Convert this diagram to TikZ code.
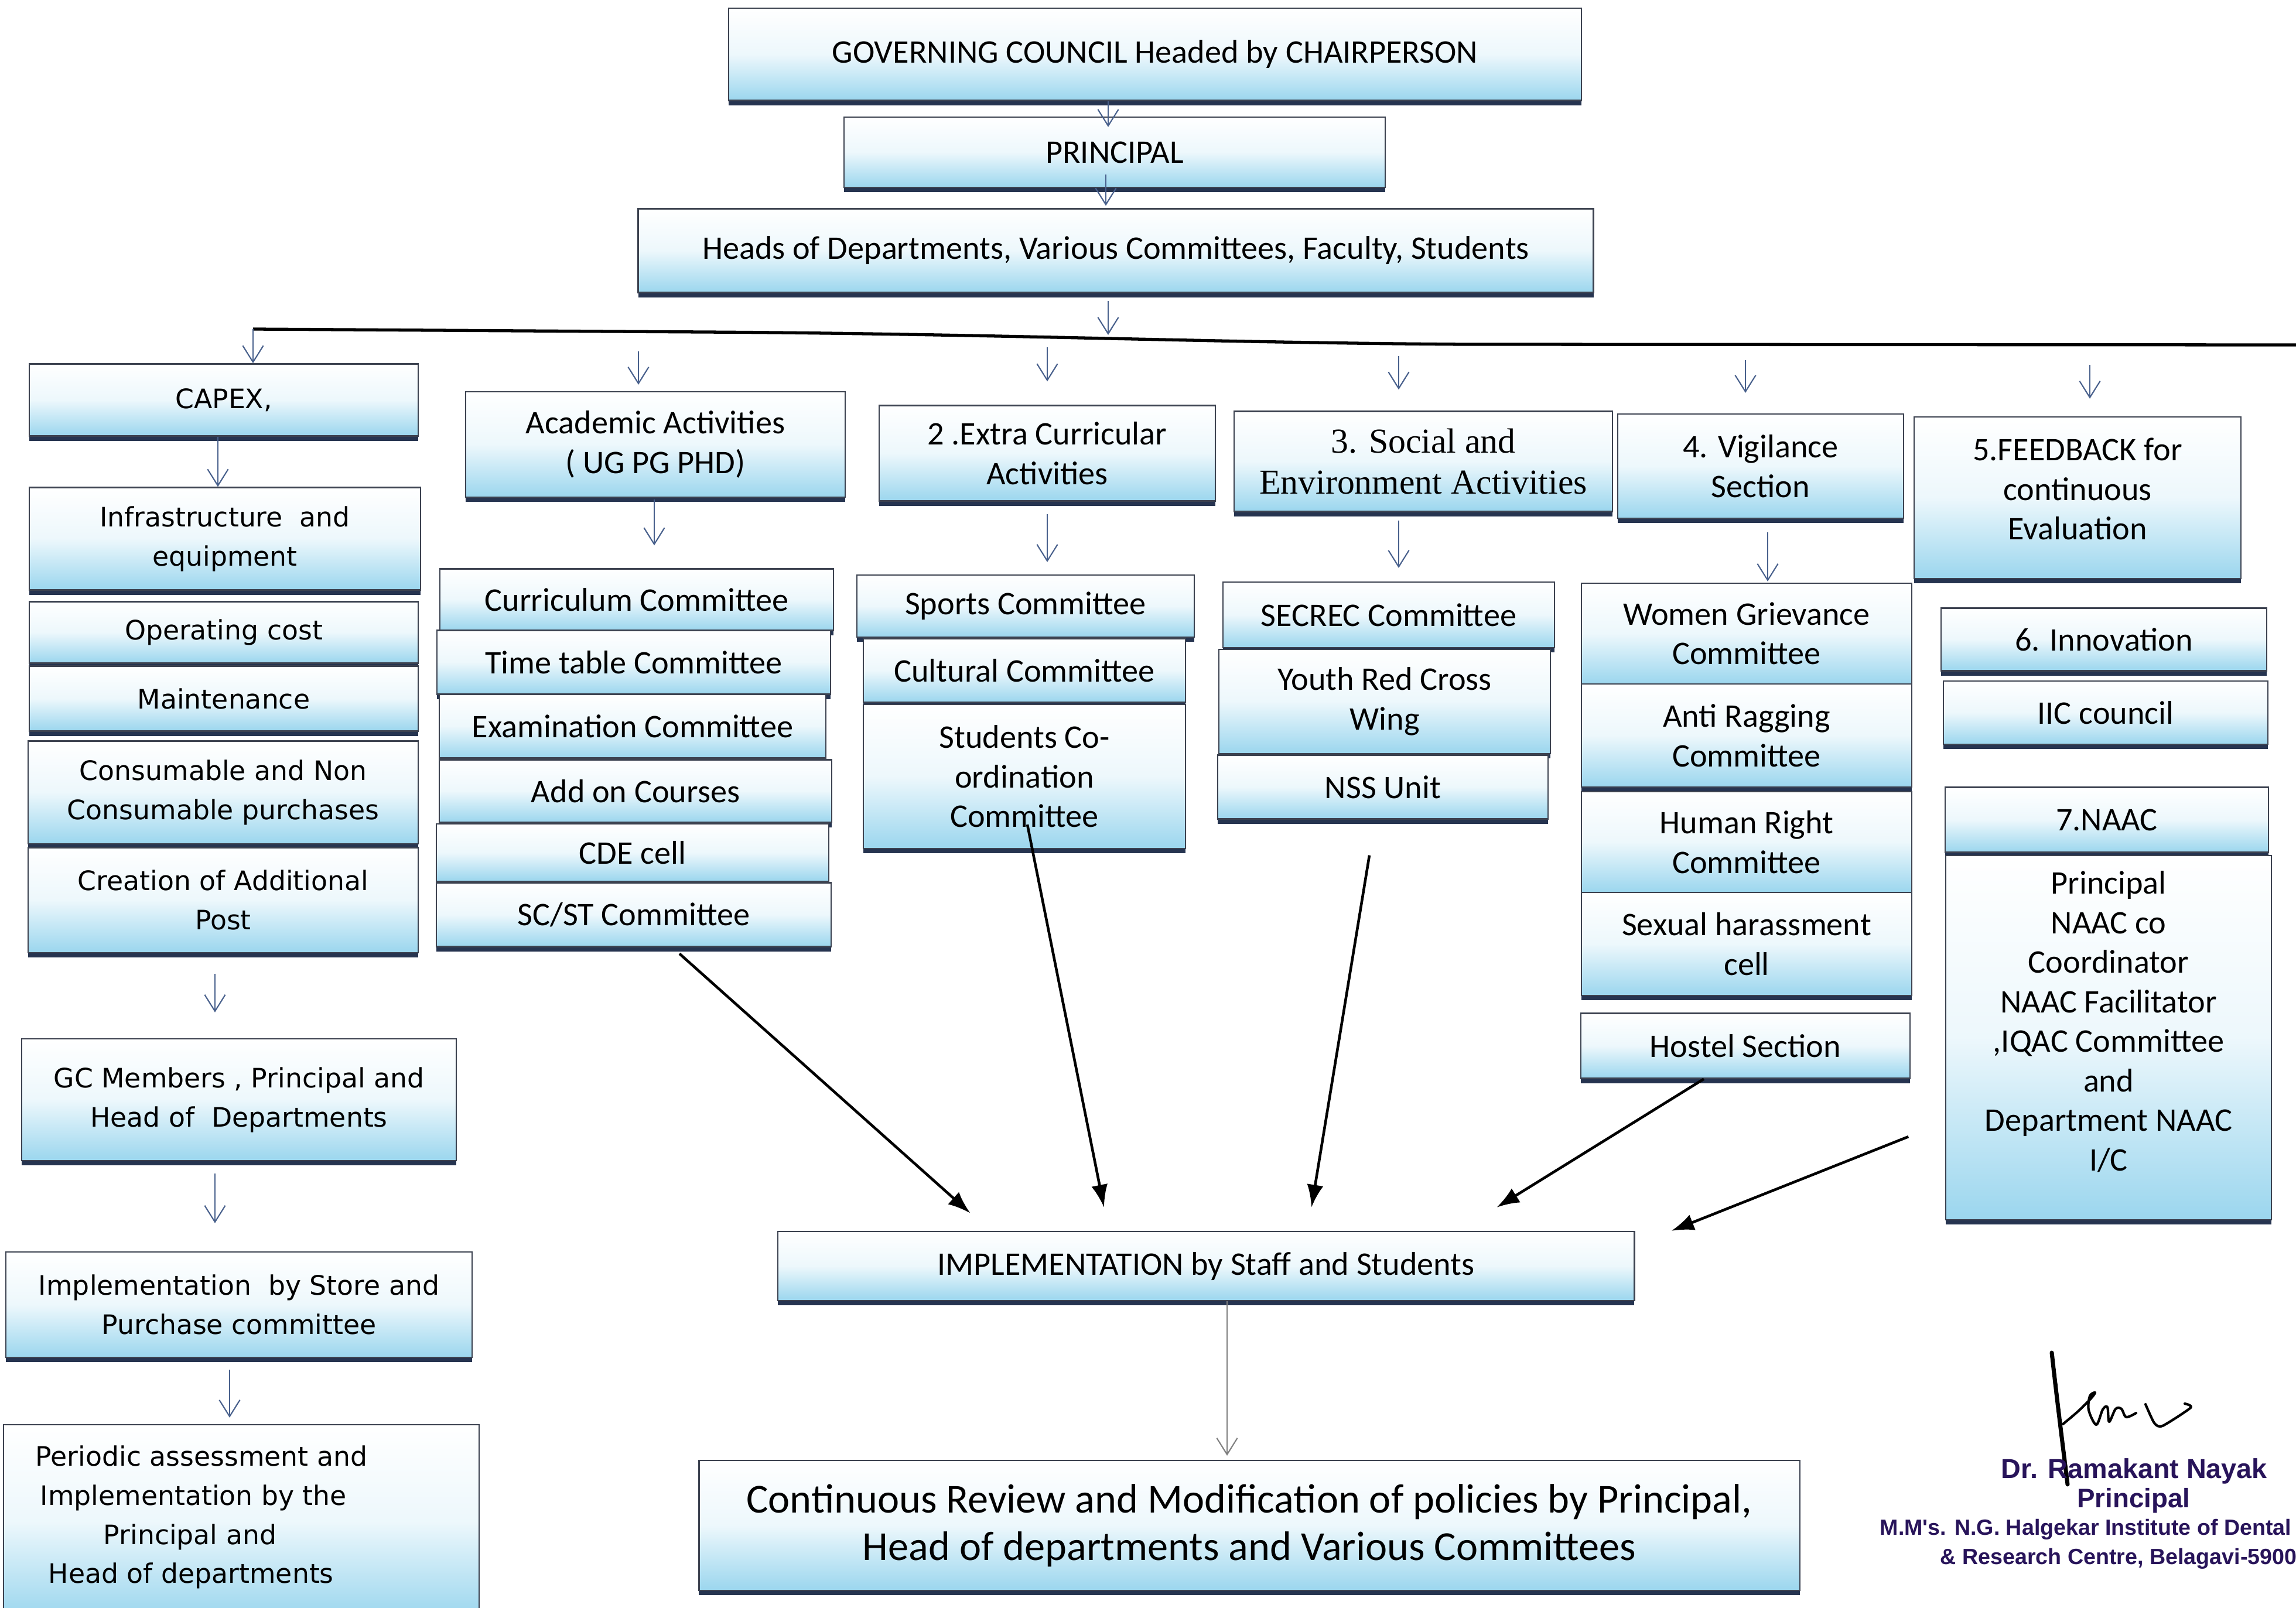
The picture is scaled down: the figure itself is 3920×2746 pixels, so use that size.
\documentclass[tikz,border=0pt]{standalone}
\usepackage{fontspec}
\setmainfont{Carlito}
\newfontfamily\verd{DejaVu Sans}
\newfontfamily\tms{Liberation Serif}
\newfontfamily\sigf{Liberation Sans}
\usetikzlibrary{arrows.meta,shadows}
\definecolor{boxb}{RGB}{155,214,238}
\definecolor{bordc}{RGB}{60,66,80}
\definecolor{shadc}{RGB}{38,52,80}
\definecolor{arrc}{RGB}{72,96,140}
\definecolor{sigc}{RGB}{40,20,90}
\tikzset{
  bx/.style={draw=bordc, line width=0.6pt, top color=white, bottom color=boxb, middle color=boxb!18!white,
    drop shadow={shadow xshift=0pt,shadow yshift=-2.3pt,fill=shadc,opacity=1},
    align=center, inner sep=1pt, font=\fontsize{16}{19.2}\selectfont},
  wh/.style n args={2}{minimum width=#1cm, minimum height=#2cm},
  vd/.style={font=\verd\fontsize{13}{19}\selectfont},
  tm/.style={font=\tms\fontsize{17}{20}\selectfont},
  barw/.style={draw=arrc, line width=0.6pt, -{Straight Barb[length=8pt,width=10pt]}},
  blk/.style={draw=black, line width=1.3pt, -{Latex[length=11pt,width=8pt]}},
  sigt/.style={text=sigc, inner sep=0pt}
}
\begin{document}
\begin{tikzpicture}[x=0.01cm,y=-0.01cm]
\fill[white] (0,0) rectangle (3920,2746);
\useasboundingbox (0,0) rectangle (3920,2746);

% top chain
\node[bx, wh={14.55}{1.57}] (gov) at (1972,93) {GOVERNING COUNCIL Headed by CHAIRPERSON};
\node[bx, wh={9.23}{1.20}] (prin) at (1903,260) {PRINCIPAL};
\node[bx, wh={16.30}{1.43}] (heads) at (1905,428) {Heads of Departments, Various Committees, Faculty, Students};

% left column
\node[bx, vd, wh={6.63}{1.23}] (capex) at (382,683) {CAPEX,};
\node[bx, vd, wh={6.67}{1.75}] (infra) at (384,920) {Infrastructure\ \ and\\equipment};
\node[bx, vd, wh={6.63}{1.05}] (oper) at (382,1080) {Operating cost};
\node[bx, vd, wh={6.63}{1.11}] (maint) at (382,1193) {Maintenance};
\node[bx, vd, wh={6.66}{1.75}] (cons) at (381,1353) {Consumable and Non\\Consumable purchases};
\node[bx, vd, wh={6.66}{1.79}] (crea) at (381,1537) {Creation of Additional\\Post};
\node[bx, vd, wh={7.42}{2.08}] (gcm) at (408,1878) {GC Members , Principal and\\Head of\ \ Departments};
\node[bx, vd, wh={7.96}{1.80}] (imps) at (408,2228) {Implementation\ \ by Store and\\Purchase committee};
\node[bx, vd, wh={8.11}{3.30}] (peri) at (412,2598) {};
\node[vd, align=left, anchor=north west, inner sep=0pt] (peritxt) at (60,2468)
  {Periodic assessment and\\\hspace*{2.3pt}Implementation by the\\\hspace*{33pt}Principal and\\\hspace*{6.3pt}Head of departments};

% academic
\node[bx, wh={6.48}{1.80}] (acad) at (1119,759) {Academic Activities\\( UG PG PHD)};
\node[bx, wh={6.71}{1.05}] (curr) at (1087,1024) {Curriculum Committee};
\node[bx, wh={6.72}{1.09}] (time) at (1082,1131) {Time table Committee};
\node[bx, wh={6.59}{1.09}] (exam) at (1080,1240) {Examination Committee};
\node[bx, wh={6.69}{1.07}] (addon) at (1085,1351) {Add on Courses};
\node[bx, wh={6.69}{0.98}] (cde) at (1080,1456) {CDE cell};
\node[bx, wh={6.73}{1.09}] (scst) at (1082,1562) {SC/ST Committee};

% extra curricular
\node[bx, wh={5.74}{1.63}] (extra) at (1788,774) {2 .Extra Curricular\\Activities};
\node[bx, wh={5.76}{1.06}] (sport) at (1751,1035) {Sports Committee};
\node[bx, wh={5.49}{1.09}] (cult) at (1749,1145) {Cultural Committee};
\node[bx, wh={5.49}{2.46}] (stud) at (1749,1326) {Students Co-\\ordination\\Committee};

% social
\node[bx, tm, wh={6.45}{1.71}] (social) at (2430,788) {3. Social and\\Environment Activities};
\node[bx, wh={5.66}{1.12}] (secrec) at (2371,1050) {SECREC Committee};
\node[bx, wh={5.65}{1.78}] (youth) at (2364,1198) {Youth Red Cross\\Wing};
\node[bx, wh={5.64}{1.09}] (nss) at (2361,1344) {NSS Unit};

% vigilance
\node[bx, wh={4.87}{1.78}] (vig) at (3006,796) {4. Vigilance\\Section};
\node[bx, wh={5.63}{1.72}] (women) at (2982,1082) {Women Grievance\\Committee};
\node[bx, wh={5.63}{1.76}] (anti) at (2982,1256) {Anti Ragging\\Committee};
\node[bx, wh={5.63}{1.72}] (human) at (2982,1438) {Human Right\\Committee};
\node[bx, wh={5.63}{1.76}] (sexh) at (2982,1612) {Sexual harassment\\cell};
\node[bx, wh={5.62}{1.11}] (hostel) at (2980,1786) {Hostel Section};

% feedback
\node[bx, wh={5.57}{2.76}] (feed) at (3547,850) {5.FEEDBACK for\\continuous\\Evaluation\\[-10.6pt]\mbox{}};
\node[bx, wh={5.55}{1.07}] (innov) at (3592,1092) {6. Innovation};
\node[bx, wh={5.53}{1.08}] (iic) at (3595,1217) {IIC council};
\node[bx, wh={5.52}{1.11}] (naac) at (3597,1400) {7.NAAC};
\node[bx, wh={5.55}{6.21}] (pnaac) at (3600,1772) {Principal\\NAAC co\\Coordinator\\NAAC Facilitator\\,IQAC Committee\\and\\Department NAAC\\I/C\\[-3pt]\mbox{}};

% bottom
\node[bx, wh={14.62}{1.18}] (impl) at (2059,2162) {IMPLEMENTATION by Staff and Students};
\node[bx, wh={18.78}{2.22}, font=\fontsize{20}{23}\selectfont] (cont) at (2133,2605)
  {Continuous Review and Modification of policies by Principal,\\Head of departments and Various Committees};

% horizontal distribution line
\coordinate (L0) at (432,562);
\coordinate (L1) at (3920,589);
\draw[line width=1.5pt] (L0) -- (1200,567) .. controls (1700,570) and (2050,585) .. (2500,588) -- (L1);

% top arrows
\coordinate (xg) at (1892,0);
\coordinate (xp) at (1888,0);
\coordinate (lh) at (1892,572);
\draw[barw, shorten >=-0.18cm] (xg |- gov.south) -- (xg |- prin.north);
\draw[barw, shorten <=-0.23cm, shorten >=0.04cm] (xp |- prin.south) -- (xp |- heads.north);
\draw[barw, shorten <=0.13cm] (xg |- heads.south) -- (lh);

% arrows from the line
\coordinate (sa) at (1090,600);
\coordinate (sb) at (1788,593);
\coordinate (sc) at (2388,608);
\coordinate (sd) at (2980,615);
\coordinate (se) at (3568,623);
\draw[barw] (L0) -- (L0 |- capex.north);
\draw[barw, shorten >=0.11cm] (sa) -- (sa |- acad.north);
\draw[barw, shorten >=0.40cm] (sb) -- (sb |- extra.north);
\draw[barw, shorten >=0.36cm] (sc) -- (sc |- social.north);
\draw[barw, shorten >=0.35cm] (sd) -- (sd |- vig.north);
\draw[barw, shorten >=0.30cm] (se) -- (se |- feed.north);

% column arrows
\coordinate (xa) at (372,0);
\coordinate (xb) at (367,0);
\coordinate (xc) at (392,0);
\coordinate (xd) at (1117,0);
\coordinate (xe) at (1788,0);
\coordinate (xf) at (2388,0);
\coordinate (xh) at (3018,0);
\coordinate (xi) at (2095,0);
\draw[barw] (xa |- capex.south) -- (xa |- infra.north);
\draw[barw, shorten <=0.35cm, shorten >=0.44cm] (xb |- crea.south) -- (xb |- gcm.north);
\draw[barw, shorten <=0.21cm, shorten >=0.48cm] (xb |- gcm.south) -- (xb |- imps.north);
\draw[barw, shorten <=0.20cm, shorten >=0.11cm] (xc |- imps.south) -- (xc |- peri.north);
\draw[barw, shorten <=0.03cm, shorten >=0.39cm] (xd |- acad.south) -- (xd |- curr.north);
\draw[barw, shorten <=0.21cm, shorten >=0.21cm] (xe |- extra.south) -- (xe |- sport.north);
\draw[barw, shorten <=0.14cm, shorten >=0.23cm] (xf |- social.south) -- (xf |- secrec.north);
\draw[barw, shorten <=0.23cm, shorten >=0.02cm] (xh |- vig.south) -- (xh |- women.north);
\draw[barw, draw=gray, shorten >=0.07cm] (xi |- impl.south) -- (xi |- cont.north);

% black arrows to implementation
\draw[blk] ([xshift=0.78cm,yshift=-0.11cm]scst.south) -- ([xshift=-4.02cm,yshift=0.30cm]impl.north);
\draw[blk] ([xshift=0.05cm,yshift=0.42cm]stud.south) -- ([xshift=-1.74cm,yshift=0.40cm]impl.north);
\draw[blk] ([xshift=-0.23cm,yshift=-0.61cm]nss.south) -- ([xshift=1.80cm,yshift=0.40cm]impl.north);
\draw[blk] ([xshift=-0.71cm]hostel.south) -- ([xshift=4.96cm,yshift=0.40cm]impl.north);
\draw[blk] ([xshift=-0.63cm,yshift=-1.69cm]pnaac.west) -- ([xshift=0.62cm]impl.north east);

% signature
\draw[line width=2pt, line cap=round] (3503,2310) .. controls (3513,2400) and (3522,2470) .. (3530,2535);
\draw[line width=1.2pt, line cap=round, line join=round] plot[smooth, tension=0.55] coordinates
  {(3522,2432) (3548,2410) (3570,2388) (3577,2378) (3568,2384) (3566,2408) (3579,2433)
   (3590,2407) (3598,2403) (3601,2428) (3612,2406) (3622,2406) (3630,2420) (3647,2413)};
\draw[line width=1.2pt, line cap=round, line join=round] plot[smooth, tension=0.4] coordinates
  {(3663,2398) (3678,2430) (3692,2435) (3740,2404) (3730,2397)};
\node[sigt, font=\sigf\bfseries\fontsize{13.3}{15}\selectfont] (sig1) at (3644,2512) {Dr. Ramakant Nayak};
\node[sigt, font=\sigf\bfseries\fontsize{13}{15}\selectfont] (sig2) at (3643,2563) {Principal};
\node[sigt, font=\sigf\bfseries\fontsize{10.7}{12}\selectfont, anchor=west] (sig3) at (3209,2612) {M.M's. N.G. Halgekar Institute of Dental};
\node[sigt, font=\sigf\bfseries\fontsize{10.7}{12}\selectfont, anchor=west] (sig4) at (3312,2662) {\& Research Centre, Belagavi-5900};
\end{tikzpicture}
\end{document}
